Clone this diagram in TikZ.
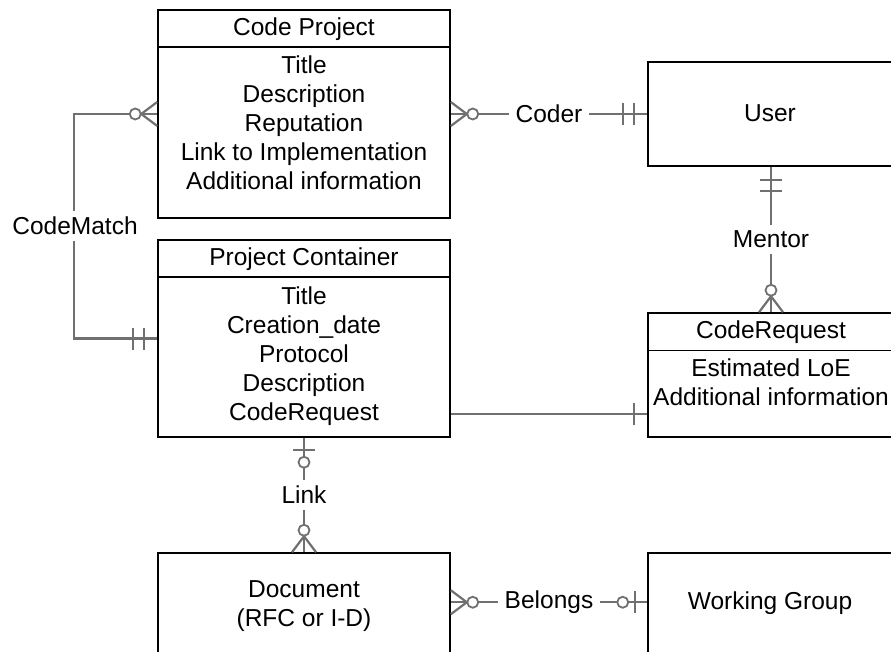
\documentclass[tikz,border=0pt]{standalone}
\usepackage{fontspec}
\setmainfont{Liberation Sans}
\usetikzlibrary{calc}
\definecolor{linkgray}{RGB}{112,112,112}
\begin{document}
\begin{tikzpicture}[x=1pt,y=-1pt,
  entity/.style={draw=black, line width=1.5pt, rectangle, inner sep=0pt,
                 minimum width=292pt},
  txt/.style={inner sep=0pt, align=center, font=\fontsize{24.5}{29}\selectfont},
  rel/.style={draw=linkgray, line width=2.2pt},
  lbl/.style={fill=white, inner xsep=7pt, inner ysep=6pt,
              font=\fontsize{24.5}{29}\selectfont},
  hdr/.style={draw=black, line width=1.5pt},
  % crow's-foot end markers; +x points away from the entity
  pics/zeromany/.style={code={
    \draw[rel] (0,-12) -- (16,0) -- (0,12);
    \draw[rel, line width=1.8pt, fill=white] (22,0) circle[radius=5.5pt];
  }},
  pics/onlyone/.style={code={
    \draw[rel] (13,-11) -- (13,11);
    \draw[rel] (24,-11) -- (24,11);
  }},
  pics/one/.style={code={
    \draw[rel] (13,-11) -- (13,11);
  }},
  pics/zeroone/.style={code={
    \draw[rel] (12.5,-11) -- (12.5,11);
    \draw[rel, line width=1.8pt, fill=white] (24.5,0) circle[radius=5.5pt];
  }}
]
\useasboundingbox (0,0) rectangle (891,652);
\clip (0,0) rectangle (891,652);

% entities
\node[entity, minimum height=208pt] (cp) at (304,114) {};
\node[entity, minimum height=197pt] (pc) at (304,338.5) {};
\node[entity, minimum width=246pt, minimum height=104pt] (user) at (771,114) {};
\node[entity, minimum width=246pt, minimum height=124pt] (cr) at (771,375) {};
\node[entity, minimum height=130pt] (doc) at (304,618) {};
\node[entity, minimum width=246pt, minimum height=130pt] (wg) at (771,618) {};

% header separators
\draw[hdr] ($(cp.north west)+(0,38)$) -- ($(cp.north east)+(0,38)$);
\draw[hdr] ($(pc.north west)+(0,38)$) -- ($(pc.north east)+(0,38)$);
\draw[hdr] ($(cr.north west)+(0,38)$) -- ($(cr.north east)+(0,38)$);

% entity texts
\node[txt] (cpName) at (304,29) {Code Project};
\node[txt] (cpAttr) at (304,123) {Title\\Description\\Reputation\\Link to Implementation\\Additional information};
\node[txt] (pcName) at (304,259) {Project Container};
\node[txt] (pcAttr) at (304,356) {Title\\Creation\_date\\Protocol\\Description\\CodeRequest};
\node[txt] (userName) at (770,113) {User};
\node[txt] (crName) at (771,332) {CodeRequest};
\node[txt] (crAttr) at (771,382) {Estimated LoE\\Additional information};
\node[txt] (docName) at (304,606) {Document\\(RFC or I-D)};
\node[txt] (wgName) at (770,603) {Working Group};

% anchor points on box sides
\coordinate (pcR) at ($(pc.south east)+(0,-24)$);
\coordinate (crL) at ($(cr.south west)+(0,-24)$);
\coordinate (docR) at ($(doc.north east)+(0,50)$);
\coordinate (wgL) at ($(wg.north west)+(0,50)$);

% relationships
\draw[rel] (cp.west) -- ++(-83,0) |- (pc.west);
\draw[rel] (cp.east) -- (user.west);
\draw[rel] (user.south) -- (cr.north);
\draw[rel] (pcR) -- (crL);
\draw[rel] (pc.south) -- (doc.north);
\draw[rel] (docR) -- (wgL);

% cardinality markers
\pic[rotate=180] at (cp.west) {zeromany};
\pic[rotate=180] at (pc.west) {onlyone};
\pic at (cp.east) {zeromany};
\pic[rotate=180] at (user.west) {onlyone};
\pic[rotate=-90] at (user.south) {onlyone};
\pic[rotate=90] at (cr.north) {zeromany};
\pic[rotate=180] at (crL) {one};
\pic[rotate=-90] at (pc.south) {zeroone};
\pic[rotate=90] at (doc.north) {zeromany};
\pic at (docR) {zeromany};
\pic[rotate=180] at (wgL) {zeroone};

% relationship labels
\node[lbl] (cmLbl) at (75,226) {CodeMatch};
\node[lbl] (coderLbl) at ($(cp.east)!0.5!(user.west)$) {Coder};
\node[lbl] (mentorLbl) at ($(user.south)!0.5!(cr.north)$) {Mentor};
\node[lbl] (linkLbl) at ($(pc.south)!0.5!(doc.north)$) {Link};
\node[lbl] (belongsLbl) at ($(docR)!0.5!(wgL)$) {Belongs};
\end{tikzpicture}
\end{document}
